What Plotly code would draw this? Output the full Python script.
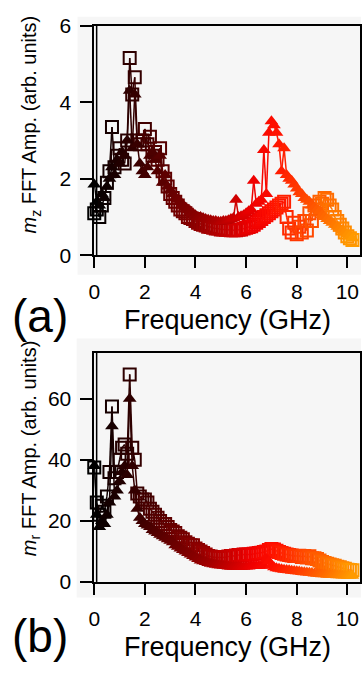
import plotly.graph_objects as go
from plotly.colors import sample_colorscale

# ---------------- data ----------------
freq = [0.0, 0.1, 0.2, 0.3, 0.4, 0.5, 0.6, 0.7, 0.8, 0.9,
        1.0, 1.1, 1.2, 1.3, 1.4, 1.5, 1.6, 1.7, 1.8, 1.9,
        2.0, 2.1, 2.2, 2.3, 2.4, 2.5, 2.6, 2.7, 2.8, 2.9,
        3.0, 3.1, 3.2, 3.3, 3.4, 3.5, 3.6, 3.7, 3.8, 3.9,
        4.0, 4.1, 4.2, 4.3, 4.4, 4.5, 4.6, 4.7, 4.8, 4.9,
        5.0, 5.1, 5.2, 5.3, 5.4, 5.5, 5.6, 5.7, 5.8, 5.9,
        6.0, 6.1, 6.2, 6.3, 6.4, 6.5, 6.6, 6.7, 6.8, 6.9,
        7.0, 7.1, 7.2, 7.3, 7.4, 7.5, 7.6, 7.7, 7.8, 7.9,
        8.0, 8.1, 8.2, 8.3, 8.4, 8.5, 8.6, 8.7, 8.8, 8.9,
        9.0, 9.1, 9.2, 9.3, 9.4, 9.5, 9.6, 9.7, 9.8, 9.9,
        10.0, 10.1, 10.2]

# panel (a): m_z
mz_squares = [1.1, 1.2, 1.0, 1.3, 1.5, 1.9, 2.2, 3.35, 2.3, 2.6,
              2.8, 2.5, 2.4, 3.0, 5.15, 4.2, 4.65, 3.0, 2.9, 3.0,
              3.3, 2.9, 3.1, 2.6, 2.7, 2.5, 2.8, 2.2, 2.0, 1.8,
              1.6, 1.5, 1.4, 1.3, 1.2, 1.15, 1.1, 1.0, 0.98, 0.95,
              0.9, 0.85, 0.82, 0.8, 0.78, 0.75, 0.74, 0.72, 0.7, 0.7,
              0.68, 0.68, 0.67, 0.67, 0.66, 0.66, 0.66, 0.67, 0.68, 0.7,
              0.72, 0.74, 0.76, 0.8, 0.85, 0.9, 0.95, 1.0, 1.05, 1.1,
              1.15, 1.2, 1.25, 1.3, 1.35, 1.4, 1.0, 0.7, 0.6, 0.85,
              0.55, 0.75, 0.6, 0.9, 0.65, 1.1, 0.9, 1.3, 1.2, 1.4,
              1.35, 1.5, 1.45, 1.3, 1.2, 1.0, 0.9, 0.8, 0.7, 0.6,
              0.5, 0.45, 0.4]
mz_triangles = [1.85, 1.4, 1.3, 1.6, 1.5, 1.8, 2.0, 2.3, 2.1, 2.5,
                2.4, 2.7, 2.6, 3.0, 4.3, 2.8, 4.2, 2.9, 2.4, 2.2,
                2.1, 2.3, 2.6, 2.7, 2.5, 2.2, 2.6, 1.9, 2.1, 1.8,
                1.7, 1.6, 1.5, 1.45, 1.4, 1.3, 1.25, 1.2, 1.15, 1.1,
                1.05, 1.0, 1.0, 0.98, 0.95, 0.93, 0.92, 0.9, 0.9, 0.88,
                0.88, 0.9, 0.9, 0.92, 0.95, 0.98, 1.45, 1.0, 1.02, 1.05,
                1.1, 1.15, 1.2, 1.95, 1.35, 1.4, 1.45, 2.75, 1.6, 3.2,
                3.5, 3.4, 3.2, 2.9, 2.2, 2.8, 2.1, 2.0, 1.95, 1.85,
                1.75, 1.65, 1.6, 1.5, 1.45, 1.4, 1.3, 1.25, 1.2, 1.15,
                1.05, 1.0, 0.95, 0.9, 0.85, 0.8, 0.75, 0.7, 0.65, 0.6,
                0.55, 0.5, 0.45]

# panel (b): m_r
mr_squares = [37.5, 26, 22, 25, 23, 28, 36, 57.5, 34, 36,
              40, 44, 45, 42, 68, 44, 40, 29, 28, 27,
              27, 26, 24, 23, 22, 21, 20, 19, 19, 18,
              17, 16.5, 16, 15, 14.5, 14, 13, 12.5, 12, 12,
              11, 10.5, 10, 9.5, 9, 8.5, 8.3, 8.2, 8, 8,
              8, 8, 8.2, 8.3, 8.5, 8.5, 8.7, 8.8, 8.8, 9,
              9, 9, 9, 9.2, 9.3, 9.5, 9.6, 9.8, 10, 10.5,
              10.8, 10.6, 10.2, 9.8, 9.5, 9.2, 9.0, 8.8, 8.7, 8.5,
              8.5, 8.6, 8.2, 8.5, 8.0, 8.4, 7.8, 7.8, 7.5, 7.0,
              6.5, 6.2, 6.0, 5.7, 5.5, 5.3, 5.0, 4.8, 4.5, 4.3,
              4.0, 3.9, 3.8]
mr_triangles = [38, 22, 18, 20, 19, 22, 26, 51, 28, 30,
                33, 36, 38, 35, 60, 38, 30, 24, 21, 20,
                19, 18.5, 18, 17, 16.5, 16, 15.5, 15, 14.5, 14,
                13.5, 13, 12, 11.5, 11, 10.5, 10, 9.5, 9, 8.5,
                8, 7.5, 7, 6.8, 6.5, 6.2, 6, 5.8, 5.6, 5.5,
                5.4, 5.3, 5.2, 5.1, 5.0, 5.0, 5.0, 5.0, 5.0, 5.0,
                5.1, 5.1, 5.2, 5.2, 5.2, 5.3, 5.3, 5.4, 7.5, 6.8,
                5.5, 4.8, 4.5, 4.3, 4.2, 4.0, 3.9, 3.8, 3.7, 3.6,
                3.5, 3.4, 3.3, 3.2, 3.1, 3.0, 2.9, 2.8, 2.7, 2.6,
                2.5, 2.5, 2.4, 2.4, 2.3, 2.3, 2.2, 2.2, 2.1, 2.1,
                2.0, 2.0, 2.0]

x_ticks = [0, 2, 4, 6, 8, 10]
mz_ticks = [0, 2, 4, 6]
mr_ticks = [0, 20, 40, 60]

# ---------------- styling ----------------
FONT = "Arial, Liberation Sans, Helvetica, sans-serif"
CS = [[0.0, "#000000"], [0.18, "#3c0000"], [0.4, "#8a0000"],
      [0.62, "#f00000"], [0.7, "#ff1000"], [1.0, "#ff9a00"]]
CMIN, CMAX = 0.0, 10.2

W, H = 362, 677
fig = go.Figure()


def add_series(xs, ys, symbol, xa, ya, open_marker):
    # coloured line segments (gradient along frequency)
    for i in range(len(xs) - 1):
        t = ((xs[i] + xs[i + 1]) / 2 - CMIN) / (CMAX - CMIN)
        col = sample_colorscale(CS, [min(max(t, 0), 1)])[0]
        fig.add_trace(go.Scatter(
            x=[xs[i], xs[i + 1]], y=[ys[i], ys[i + 1]], mode="lines",
            line=dict(color=col, width=1.5), xaxis=xa, yaxis=ya,
            showlegend=False, hoverinfo="skip", cliponaxis=False))
    marker = dict(symbol=symbol, size=12, color=xs, colorscale=CS,
                  cmin=CMIN, cmax=CMAX)
    marker["line"] = dict(width=2) if open_marker else dict(width=0)
    fig.add_trace(go.Scatter(x=xs, y=ys, mode="markers", marker=marker,
                             xaxis=xa, yaxis=ya, showlegend=False,
                             cliponaxis=False))


add_series(freq, mz_squares, "square-open", "x", "y", True)
add_series(freq, mz_triangles, "triangle-up", "x", "y", False)
add_series(freq, mr_squares, "square-open", "x2", "y2", True)
add_series(freq, mr_triangles, "triangle-up", "x2", "y2", False)

xdom = [90 / W, 361 / W]
ax_common = dict(showline=True, linecolor="black", linewidth=1.5, mirror=True,
                 ticks="outside", tickcolor="black", tickwidth=1.5,
                 showgrid=False, zeroline=False,
                 tickfont=dict(family=FONT, size=21, color="black"))

fig.update_layout(
    width=W, height=H, autosize=False,
    margin=dict(l=0, r=0, t=0, b=0),
    paper_bgcolor="white", plot_bgcolor="rgba(0,0,0,0)",
    xaxis=dict(domain=xdom, range=[0, 10.5], tickvals=x_ticks, anchor="y",
               ticklen=11, ticklabelstandoff=6, **ax_common),
    yaxis=dict(domain=[1 - 252 / H, 1 - 14 / H], range=[0, 6],
               tickvals=mz_ticks, anchor="x", ticklen=13,
               ticklabelstandoff=4, **ax_common),
    xaxis2=dict(domain=xdom, range=[0, 10.5], tickvals=x_ticks, anchor="y2",
                ticklen=11, ticklabelstandoff=6, **ax_common),
    yaxis2=dict(domain=[1 - 590 / H, 1 - 353 / H], range=[0, 75],
                tickvals=mr_ticks, anchor="x2", ticklen=13,
                ticklabelstandoff=4, **ax_common),
    showlegend=False,
)

# light grey image backgrounds
fig.add_shape(type="rect", xref="paper", yref="paper", x0=73 / W, x1=1,
              y0=1 - 272 / H, y1=1 - 5 / H, fillcolor="#f6f6f6",
              line=dict(width=0), layer="below")
fig.add_shape(type="rect", xref="paper", yref="paper", x0=72 / W, x1=1,
              y0=1 - 606 / H, y1=1 - 338 / H, fillcolor="#f6f6f6",
              line=dict(width=0), layer="below")
# second vertical line beside the y axis
for xr, yr in (("x domain", "y domain"), ("x2 domain", "y2 domain")):
    fig.add_shape(type="line", xref=xr, yref=yr, x0=0.009, x1=0.009,
                  y0=0, y1=1, line=dict(color="black", width=1.5))

ann_font = dict(family=FONT, color="black")
annotations = [
    dict(text="Frequency (GHz)", x=226 / W, y=1 - 319 / H, size=27),
    dict(text="Frequency (GHz)", x=226 / W, y=1 - 657 / H, size=27),
    dict(text="(a)", x=35 / W, y=1 - 315 / H, size=46),
    dict(text="(b)", x=35 / W, y=1 - 646 / H, size=46),
]
for a in annotations:
    fig.add_annotation(text=a["text"], x=a["x"], y=a["y"], xref="paper",
                       yref="paper", showarrow=False, xanchor="center",
                       yanchor="middle", font=dict(size=a["size"], **ann_font))
for txt, yc in (("<i>m</i><sub>z</sub> FFT Amp. (arb. units)", 117),
                ("<i>m</i><sub>r</sub> FFT Amp. (arb. units)", 452)):
    fig.add_annotation(text=txt, x=25 / W, y=1 - yc / H, xref="paper",
                       yref="paper", showarrow=False, textangle=-90,
                       xanchor="center", yanchor="middle",
                       font=dict(size=20, **ann_font))

fig.write_html("out.html", config={"displayModeBar": False},
               post_script="document.body.style.margin='0px';"
                           "document.body.style.overflow='hidden';")
